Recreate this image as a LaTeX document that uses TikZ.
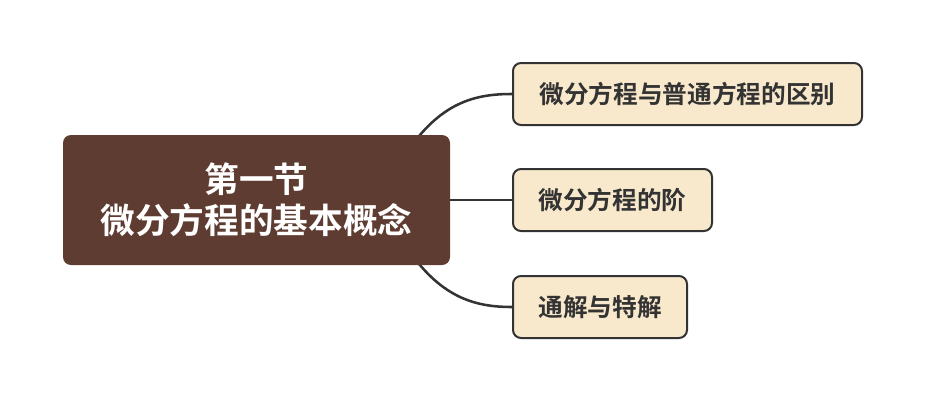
\documentclass[tikz,border=0pt]{standalone}
\usepackage{fontspec}
\newfontfamily\cjk{Noto Sans CJK SC}[BoldFont={Noto Sans CJK SC Bold}]
\usetikzlibrary{backgrounds}
\definecolor{rootfill}{HTML}{5E3C31}
\definecolor{childfill}{HTML}{F9E9CC}
\definecolor{edge}{HTML}{333333}
\tikzset{
  rootbox/.style={draw=none, fill=rootfill, rounded corners=6pt, minimum width=387*0.75pt, minimum height=130*0.75pt, inner sep=0pt, align=center, text=white, font=\cjk\bfseries\fontsize{26}{31}\selectfont},
  childbox/.style={draw=edge, line width=1.5pt, fill=childfill, rounded corners=6pt, minimum height=62*0.75pt, inner sep=0pt, text=edge, font=\cjk\bfseries\fontsize{18.5}{22}\selectfont},
  conn/.style={draw=edge, line width=1.9pt}
}
\begin{document}
\begin{tikzpicture}[x=0.75pt,y=-0.75pt]
\useasboundingbox (0,0) rectangle (925,400);
\node[rootbox] (root) at (256.5,200) {第一节\\微分方程的基本概念};
\node[childbox, minimum width=349*0.75pt] (c1) at (687.5,94) {微分方程与普通方程的区别};
\node[childbox, minimum width=199*0.75pt] (c2) at (612.5,200) {微分方程的阶};
\node[childbox, minimum width=174*0.75pt] (c3) at (600,307) {通解与特解};
\coordinate (s1) at (405,155);
\coordinate (s3) at (405,245);
\begin{scope}[on background layer]
\draw[conn] (s1) .. controls (440,102) and (475,94) .. (c1.west);
\draw[conn] (root.east) -- (c2.west);
\draw[conn] (s3) .. controls (440,298) and (475,307) .. (c3.west);
\end{scope}
\end{tikzpicture}
\end{document}
